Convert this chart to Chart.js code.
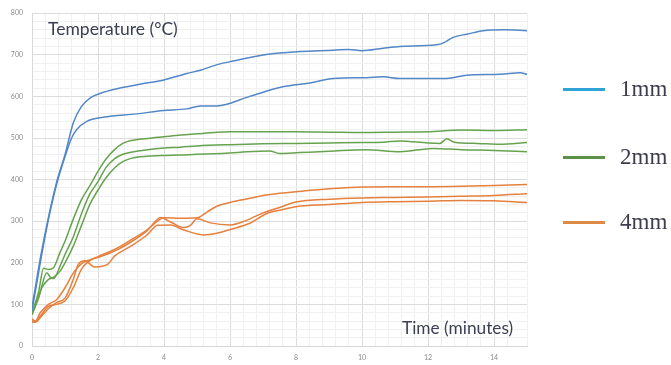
<!DOCTYPE html>
<html>
<head>
<meta charset="utf-8">
<script src="https://cdn.jsdelivr.net/npm/chart.js@4"></script>
<style>
  html, body { margin: 0; padding: 0; background: #fff; }
  #wrap { position: relative; width: 671px; height: 365px; overflow: hidden; }
  canvas { position: absolute; left: 0; top: 0; }
  .lbl { position: absolute; font-family: Lato, "Open Sans", sans-serif; color: #3b3f52; white-space: nowrap; line-height: 22px; }
  .leg { position: absolute; left: 563px; width: 42px; height: 3px; }
  .legt { position: absolute; left: 620px; font-family: "Liberation Serif", serif; font-size: 23px; color: #3d3d4d; line-height: 26px; }
</style>
</head>
<body>
<div id="wrap">
  <canvas id="c" width="671" height="365"></canvas>
  <div class="lbl" id="ylab" style="left:48px; top:18px; font-size:17.5px;">Temperature (°C)</div>
  <div class="lbl" id="xlab" style="left:402px; top:317px; font-size:17.3px;">Time (minutes)</div>
  <div class="leg" style="top:88px; background:#2fa3d6;"></div>
  <div class="legt" style="top:76px;">1mm</div>
  <div class="leg" style="top:156px; background:#5b9149;"></div>
  <div class="legt" style="top:144px;">2mm</div>
  <div class="leg" style="top:221px; background:#dd8a44;"></div>
  <div class="legt" style="top:209px;">4mm</div>
</div>
<script>
// ---- data (time in minutes, temperature in °C) ----
const blueA_t = [0,0.1,0.25,0.5,0.75,1.0,1.25,1.5,1.8,2.06,2.67,3.3,3.97,4.69,5.1,5.64,6.1,7.1,8.12,9.13,9.6,10.0,10.64,11.15,12.26,12.5,12.76,13.2,13.67,14.3,15];
const blueA_v = [95,140,210,310,395,460,536,576,598,607,620,630,639,655,663,677,685,701,708,711,713,710,716,720,724,730,742,750,758,760,758];

const blueB_t = [0,0.1,0.25,0.5,0.75,1.0,1.2,1.35,1.66,2.16,3.17,3.98,4.69,5.1,5.6,6.6,7.6,8.42,9.13,10.14,10.64,11.15,12.57,13.17,14.18,14.8,15];
const blueB_v = [85,130,200,305,390,455,500,520,540,550,558,566,570,577,577,600,623,632,643,645,647,643,643,651,653,657,653];

const green1_t = [0,0.2,0.35,0.5,0.65,0.85,1.0,1.25,1.5,1.75,2.0,2.25,2.5,2.75,3.0,3.5,4.0,4.5,5.0,5.5,6.0,7,8,9,10,11,12,13,14,15];
const green1_v = [80,130,187,184,188,225,252,305,352,385,420,450,472,487,494,499,503,507,510,513,515,515,515,514,513,514,515,519,518,520];

const green2_t = [0,0.2,0.45,0.55,0.65,0.85,1.0,1.25,1.5,1.75,2.0,2.25,2.5,2.75,3.0,3.5,4.0,4.5,5.0,6,7,8,9,10,10.64,11.15,12,12.36,12.57,12.8,13.5,14.18,15];
const green2_v = [75,115,176,166,162,192,220,262,318,365,395,430,450,461,466,472,476,478,481,484,486,487,488,489,490,493,488,487,498,490,487,485,489];

const green3_t = [0,0.1,0.3,0.5,0.65,0.85,1.0,1.25,1.5,1.75,2.0,2.25,2.5,2.75,3.0,3.5,4.0,4.5,5.0,5.5,6.0,6.5,7.2,7.5,8.1,9,10.1,11.15,12.15,13,14,15];
const green3_v = [75,100,140,160,165,180,200,240,290,340,375,405,428,443,451,456,458,459,461,462,464,467,469,463,465,468,472,467,475,472,470,467];

const orange1_t = [0,0.1,0.25,0.5,0.75,1.0,1.25,1.5,1.75,2.0,2.5,3.0,3.5,3.8,4.0,4.5,5.0,5.3,5.6,6.0,6.6,7.0,7.5,8.0,9,10,11,12,13,14,15];
const orange1_v = [60,58,72,95,100,108,140,185,205,215,232,255,280,300,308,307,308,322,336,345,355,362,367,371,378,382,383,383,384,386,388];

const orange2_t = [0,0.1,0.25,0.5,0.75,1.0,1.25,1.5,1.75,2.0,2.5,3.0,3.5,3.9,4.2,4.6,4.8,5.0,5.4,6.0,6.5,7.0,7.5,8.0,9,10,11,12,13,14,15];
const orange2_v = [65,60,80,100,112,140,175,198,207,213,228,250,278,309,298,285,290,306,296,291,302,320,333,346,353,356,357,358,360,362,366];

const orange3_t = [0,0.1,0.25,0.5,0.75,1.0,1.25,1.4,1.6,1.9,2.3,2.5,3.0,3.5,3.8,4.2,4.6,5.2,5.6,6.0,6.6,7.1,7.6,8.0,9,10,11,12,13,14,15];
const orange3_v = [58,57,68,90,105,115,160,196,205,190,197,216,240,268,290,291,279,267,271,280,295,318,328,335,340,345,347,348,350,349,345];

const xMax = 15, yMax = 800;
const xMinorStep = 0.4, xMajorStep = 2;
const yMinorStep = 20, yMajorStep = 100;

const colBlue = '#5287c8', colGreen = '#66a34e', colOrange = '#e5803e';

function pts(t, v) { return t.map((x, i) => ({ x: x, y: v[i] })); }
function ds(t, v, c) {
  return { data: pts(t, v), borderColor: c, borderWidth: 1.5, pointRadius: 0, fill: false,
           cubicInterpolationMode: 'monotone' };
}
function isMajor(v, step) { const r = v / step; return Math.abs(r - Math.round(r)) < 1e-6; }

new Chart(document.getElementById('c'), {
  type: 'line',
  data: {
    datasets: [
      ds(blueA_t, blueA_v, colBlue), ds(blueB_t, blueB_v, colBlue),
      ds(green1_t, green1_v, colGreen), ds(green2_t, green2_v, colGreen), ds(green3_t, green3_v, colGreen),
      ds(orange1_t, orange1_v, colOrange), ds(orange2_t, orange2_v, colOrange), ds(orange3_t, orange3_v, colOrange)
    ]
  },
  options: {
    responsive: false, animation: false, devicePixelRatio: 1,
    layout: { padding: { top: 9, right: 144, bottom: 0, left: 0 } },
    plugins: { legend: { display: false }, tooltip: { enabled: false } },
    scales: {
      x: {
        type: 'linear', min: 0, max: xMax,
        afterFit: s => { s.height = 19; },
        border: { display: true, color: '#d8d8d8' },
        grid: { drawTicks: false, lineWidth: 1,
                color: c => isMajor(c.tick.value, xMajorStep) ? '#dcdcdc' : '#f0f0f0' },
        ticks: { stepSize: xMinorStep, autoSkip: false, maxRotation: 0, maxTicksLimit: 1000, padding: 8,
                 color: '#8a8a8a', font: { family: 'Lato', size: 7 },
                 callback: v => isMajor(v, xMajorStep) ? String(Math.round(v)) : '' }
      },
      y: {
        type: 'linear', min: 0, max: yMax,
        afterFit: s => { s.width = 32; },
        border: { display: true, color: '#d8d8d8' },
        grid: { drawTicks: false, lineWidth: 1,
                color: c => isMajor(c.tick.value, yMajorStep) ? '#dcdcdc' : '#f0f0f0' },
        ticks: { stepSize: yMinorStep, autoSkip: false, maxTicksLimit: 1000, padding: 9,
                 color: '#8a8a8a', font: { family: 'Lato', size: 7 },
                 callback: v => isMajor(v, yMajorStep) ? String(Math.round(v)) : '' }
      }
    }
  }
});
</script>
</body>
</html>
